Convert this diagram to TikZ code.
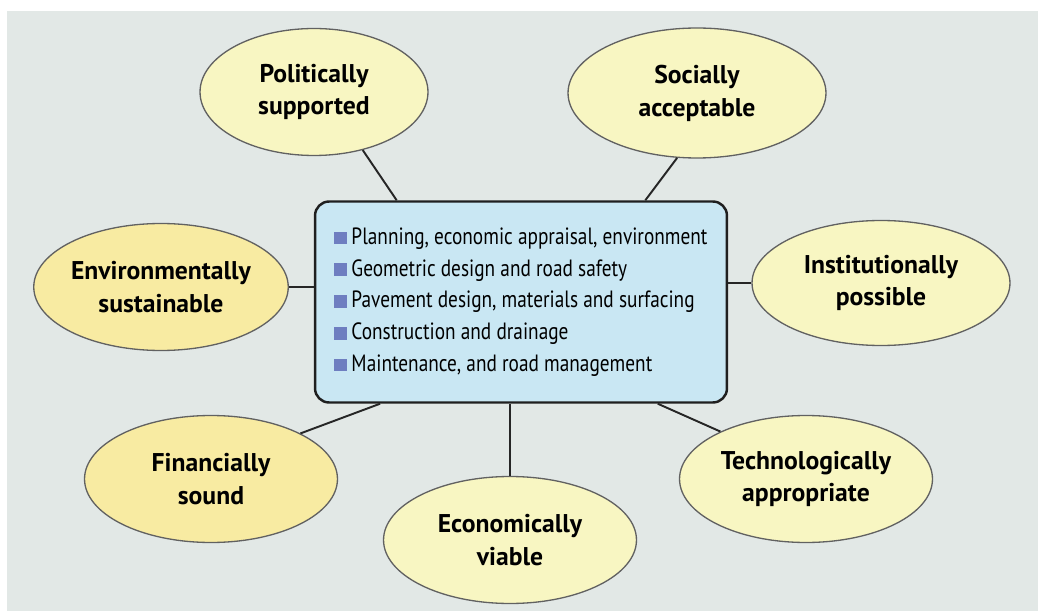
\documentclass[tikz,border=0pt]{standalone}
\usepackage{fontspec}
\setmainfont{PT Sans}
\newfontfamily\narrowsans[FakeStretch=0.82]{PT Sans}
\usetikzlibrary{shapes.geometric,calc}
\definecolor{bggray}{HTML}{E2E8E6}
\definecolor{paleyel}{HTML}{F8F6C2}
\definecolor{deepyel}{HTML}{F8EBA2}
\definecolor{boxblue}{HTML}{C9E7F3}
\definecolor{bullblue}{HTML}{6E7EC0}
\newcommand{\bsq}{\textcolor{bullblue}{\rule[0pt]{7.2pt}{7.2pt}}\hspace{2.5pt}}
\tikzset{
  goal/.style={ellipse, draw=black!62, line width=0.75pt, fill=paleyel, align=center, inner sep=0pt,
    minimum width=5.06cm, minimum height=2.54cm, font=\bfseries\fontsize{14.6}{18.7}\selectfont},
  goaldeep/.style={goal, fill=deepyel},
  core/.style={rectangle, rounded corners=8pt, draw=black!88, fill=boxblue, line width=1.4pt, align=left,
    minimum width=8.24cm, minimum height=4.02cm, inner sep=0pt, font=\narrowsans\fontsize{13.4}{18.1}\selectfont},
  link/.style={draw=black!85, line width=1.1pt},
}
\begin{document}
\begin{tikzpicture}[x=0.02cm, y=-0.02cm]
  \useasboundingbox (0,0) rectangle (1038,611);
  \fill[bggray] (7,11) rectangle (1038,611);
  % centre box
  \node[core] (box) at (521,302) {\bsq Planning, economic appraisal, environment\\
    \bsq Geometric design and road safety\\
    \bsq Pavement design, materials and surfacing\\
    \bsq Construction and drainage\\
    \bsq Maintenance, and road management};
  % criteria round it
  \node[goal, minimum width=4.56cm] (pol) at (314,92) {Politically\\supported};
  \node[goal, minimum width=5.16cm, minimum height=2.6cm] (soc) at (697,93) {Socially\\acceptable};
  \node[goaldeep] (env) at (161,287) {Environmentally\\sustainable};
  \node[goal, minimum width=5.16cm, minimum height=2.5cm] (inst) at (881,283) {Institutionally\\possible};
  \node[goaldeep] (fin) at (211,479) {Financially\\sound};
  \node[goal] (eco) at (510,540) {Economically\\viable};
  \node[goal] (tech) at (806,479) {Technologically\\appropriate};
  % links
  \draw[link] (pol.-50) -- ($(box.north west)!0.2!(box.north east)$);
  \draw[link] (soc.-107) -- ($(box.north west)!0.8!(box.north east)$);
  \draw[link] (env.east) -- (env.east -| box.west);
  \draw[link] (inst.west) -- (inst.west -| box.east);
  \draw[link] (fin.27) -- ($(box.south west)!0.16!(box.south east)$);
  \draw[link] (eco.north) -- (eco.north |- box.south);
  \draw[link] (tech.151) -- ($(box.south west)!0.83!(box.south east)$);
\end{tikzpicture}
\end{document}
